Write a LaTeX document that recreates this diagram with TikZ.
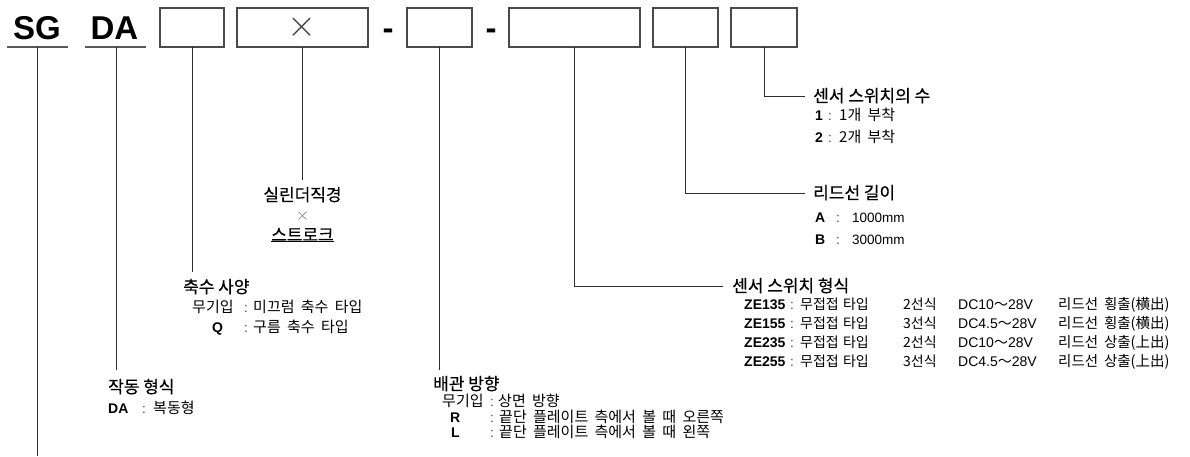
\documentclass[tikz,border=0pt]{standalone}
\usepackage{graphicx}
\usepackage{fontspec}
\setmainfont{Liberation Sans}
\newfontfamily\kr{Noto Sans CJK KR}
\newfontfamily\krt[FakeBold=0.4]{Noto Sans CJK KR}
\newcommand\ttlfont{\krt\fontsize{17}{19}\selectfont\spaceskip 0.22em\relax}
\newcommand\itmfont{\kr\fontsize{15}{17}\selectfont\spaceskip 0.42em\relax}
\newcommand\itmsfont{\kr\fontsize{14}{16}\selectfont\spaceskip 0.3em\relax}
\newcommand\itmlfont{\kr\fontsize{14.5}{16}\selectfont\spaceskip 0.4em\relax}
\definecolor{boxgray}{HTML}{4A4A4A}
\definecolor{linegray}{HTML}{2E2E2E}
\begin{document}
\begin{tikzpicture}[x=1pt,y=-1pt,
  codebox/.style={draw=boxgray,line width=1.2pt,inner sep=0,outer sep=0,minimum height=39},
  leader/.style={draw=linegray,line width=0.8pt},
  uline/.style={draw=black!65,line width=1.3pt},
  big/.style={inner sep=0,anchor=base,font=\bfseries\fontsize{33}{33}\selectfont},
  ttl/.style={inner sep=0,anchor=base west,font=\ttlfont},
  ttlc/.style={inner sep=0,anchor=base,font=\ttlfont},
  itm/.style={inner sep=0,anchor=base west,font=\itmfont},
  itms/.style={inner sep=0,anchor=base west,font=\itmsfont},
  itml/.style={inner sep=0,anchor=base west,font=\itmlfont},
  lat/.style={inner sep=0,anchor=base west,font=\fontsize{13.5}{16}\selectfont},
  lats/.style={inner sep=0,anchor=base west,font=\fontsize{14}{16}\selectfont},
  key/.style={inner sep=0,anchor=base west,font=\bfseries\fontsize{14}{16}\selectfont},
  colon/.style={inner sep=0,anchor=base,font=\fontsize{13.5}{16}\selectfont,text=black!75}]
\useasboundingbox (0,0) rectangle (1190,456);

% ---------- code row ----------
\node[big] (sg) at (37,39) {SG};
\node[big] (da) at (114.5,39) {DA};
\draw[uline] (7,47) -- (68,47);
\draw[uline] (85,47) -- (146,47);
\node[codebox,minimum width=64] (b1) at (192,27.5) {};
\node[codebox,minimum width=131] (b2) at (302.5,27.5) {};
\node[inner sep=0,text=black!75,font=\fontsize{24}{24}\selectfont] (bx) at (b2.center) {\scalebox{1.5}{$\times$}};
\node[big] (d1) at (388,39) {-};
\node[codebox,minimum width=65] (b3) at (439.5,27.5) {};
\node[big] (d2) at (491,39) {-};
\node[codebox,minimum width=131] (b4) at (574.5,27.5) {};
\node[codebox,minimum width=65] (b5) at (685.5,27.5) {};
\node[codebox,minimum width=66] (b6) at (764,27.5) {};

% ---------- leader end points ----------
\coordinate (sgs) at (37.5,47);
\coordinate (sge) at (37.5,456);
\coordinate (das) at (116,47);
\coordinate (dae) at (116,370);
\coordinate (e1) at (192,272);
\coordinate (e2) at (302.5,180);
\coordinate (e3) at (439.5,370);
\coordinate (e4) at (723,286);
\coordinate (e5) at (805,193);
\coordinate (e6) at (805,96);

\draw[leader] (sgs) -- (sge);
\draw[leader] (das) -- (dae);
\draw[leader] (b1.south) -- (e1);
\draw[leader] (b2.south) -- (e2);
\draw[leader] (b3.south) -- (e3);
\draw[leader] (b4.south) |- (e4);
\draw[leader] (b5.south) |- (e5);
\draw[leader] (b6.south) |- (e6);

% ---------- 센서 스위치의 수 ----------
\node[ttl] (t6) at (813,102) {센서 스위치의 수};
\node[key] (k61) at (815,120) {1};
\node[colon] at (830,120) {:};
\node[itm] at (839,120) {1개 부착};
\node[key] (k62) at (815,142) {2};
\node[colon] at (830,142) {:};
\node[itm] at (839,142) {2개 부착};

% ---------- 리드선 길이 ----------
\node[ttl] (t5) at (813,199) {리드선 길이};
\node[key] at (815,222) {A};
\node[colon] at (838,222) {:};
\node[lat] at (852,222) {1000mm};
\node[key] at (815,244) {B};
\node[colon] at (838,244) {:};
\node[lat] at (852,244) {3000mm};

% ---------- 센서 스위치 형식 ----------
\node[ttl] (t4) at (732,292) {센서 스위치 형식};
\foreach \c/\w/\dc/\ld [count=\i from 0] in
  {ZE135/2/DC10/횡출(横出), ZE155/3/DC4.5/횡출(横出),
   ZE235/2/DC10/상출(上出), ZE255/3/DC4.5/상출(上出)}{
  \node[key] at (744,309+19*\i) {\c};
  \node[colon] at (792,309+19*\i) {:};
  \node[itms] at (800,309+19*\i) {무접접 타입};
  \node[itms] at (903,309+19*\i) {\w 선식};
  \node[lats] at (958,309+19*\i) {\dc{\kr ～}28V};
  \node[itml] at (1058,309+19*\i) {리드선 \ld};
}

% ---------- 실린더직경 × 스트로크 ----------
\node[ttlc] (t2) at (302.5,201) {실린더직경};
\node[inner sep=0,text=black!55,font=\fontsize{17}{17}\selectfont] (t2x) at (302.5,216) {$\times$};
\node[ttlc] (t2s) at (302.5,241) {스트로크};
\draw[draw=black,line width=0.7pt] ([yshift=-0.5pt]t2s.south west) -- ([yshift=-0.5pt]t2s.south east);

% ---------- 축수 사양 ----------
\node[ttl] (t1) at (183,293) {축수 사양};
\node[itm] at (192,312) {무기입};
\node[colon] at (246,312) {:};
\node[itm] at (253,312) {미끄럼 축수 타입};
\node[key] at (212,332) {Q};
\node[colon] at (246,332) {:};
\node[itm] at (253,332) {구름 축수 타입};

% ---------- 작동 형식 ----------
\node[ttl] (t0) at (108,393) {작동 형식};
\node[key] at (108,413) {DA};
\node[colon] at (144,413) {:};
\node[itm] at (153,413) {복동형};

% ---------- 배관 방향 ----------
\node[ttl] (t3) at (433,390) {배관 방향};
\node[itm] at (442,406) {무기입};
\node[colon] at (492,406) {:};
\node[itm] at (498,406) {상면 방향};
\node[key] at (450,422) {R};
\node[colon] at (492,422) {:};
\node[itm] at (499,422) {끝단 플레이트 측에서 볼 때 오른쪽};
\node[key] at (451,437) {L};
\node[colon] at (492,437) {:};
\node[itm] at (499,437) {끝단 플레이트 측에서 볼 때 왼쪽};
\end{tikzpicture}
\end{document}
